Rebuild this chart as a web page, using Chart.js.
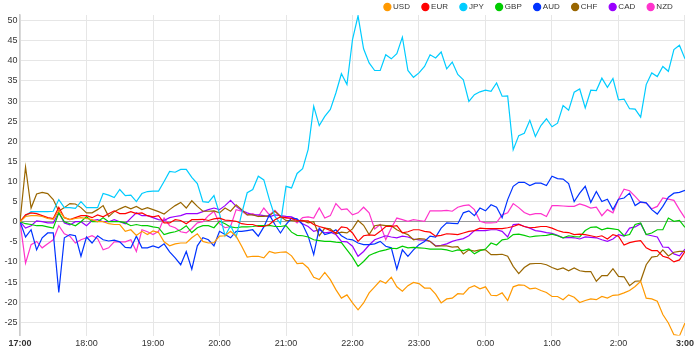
<!DOCTYPE html>
<html>
<head>
<meta charset="utf-8">
<script src="https://cdn.jsdelivr.net/npm/chart.js@4.4.1/dist/chart.umd.min.js"></script>
<style>
  html, body { margin: 0; padding: 0; background: #fff; }
  #wrap { width: 697px; height: 354px; }
</style>
</head>
<body>
<div id="wrap"><canvas id="chartCanvas" width="697" height="354"></canvas></div>
<script>
// hour ticks, one data point every 5 minutes (12 per hour)
var hourLabels = ['17:00', '18:00', '19:00', '20:00', '21:00', '22:00', '23:00', '0:00', '1:00', '2:00', '3:00']
var currencies = ['USD', 'EUR', 'JPY', 'GBP', 'AUD', 'CHF', 'CAD', 'NZD']
var colors = ['#ff9900', '#ff0000', '#00ccff', '#00cc00', '#0033ff', '#996600', '#9900ff', '#ff33cc']

var usd = [0, 1.3, 1.5, 1.5, 1.3, 0.8, 0.6, 2.8, 1, 0.5, 0.8, 1, 0.8, 0.5, 0, 0, -0.5, -0.7, -0.7, -2.4,
  -2, -3.4, -2.4, -3.2, -2.3, -2.7, -5, -6, -5.5, -5.3, -5.3, -4, -3, -4.9, -5.3, -5.2, -3.6, -3.5, -2.4, -3.6,
  -6.1, -8.8, -8.6, -8.6, -9, -7.4, -7.8, -7.6, -7.5, -8.5, -10.4, -10.3, -11.5, -13.8, -14.4, -12.6, -14.4, -16.9, -19, -18.2,
  -20.2, -21.9, -20.2, -17.7, -16.2, -14.7, -15.3, -13.8, -16.2, -17.3, -15.9, -15.1, -15.4, -16.5, -16.5, -18, -20.2, -19.2, -19, -17.9,
  -18, -16.5, -15.9, -16.7, -16.2, -18.3, -18.4, -17.7, -19.6, -16.2, -15.7, -15.8, -16.7, -16.5, -17.1, -17.6, -18.6, -18.6, -19.4, -18.2,
  -18.8, -20.1, -19.6, -19.2, -19.4, -18.6, -19, -18.3, -18.2, -17.7, -17.1, -16.1, -14.8, -19, -19.2, -19.8, -23.1, -25.2, -28.1, -28.4, -25.2]

var eur = [0, 1.7, 2.2, 2, 1.5, 1, 0.8, 3.6, 1, 0.5, 1, 1.5, 1.5, 1, 1.7, 1.2, 2, 2.7, 2, 2,
  2.5, 2, 2.2, 1.5, 1.2, 1.5, -0.3, -0.3, 0.5, 0.3, -0.5, 0.5, 0.5, 0.6, 0.3, 0.7, 0.9, 0.4, 0.3, 0.1,
  -0.5, -0.7, -0.7, -1.2, -1.2, -0.7, 0.5, 1.2, 1, 0.8, 0.3, 0.2, 0.2, -0.7, -1.2, -1.6, -2.2, -2.8, -1.3, -1.5,
  -2.8, -4.9, -3.5, -3.3, -3.4, -2.4, -1.2, -1.2, -1, -2.8, -2.5, -2, -2, -2.4, -2.6, -3.6, -3.4, -3, -3.1, -3.2,
  -2.8, -2.4, -2.2, -1.6, -1.7, -1.7, -1.7, -1.7, -1.5, -1.2, -0.7, -1.2, -1.5, -1.4, -1.2, -1.2, -1.6, -2.2, -2.6, -2.7,
  -3.2, -3.1, -3.2, -3.5, -3.8, -3.5, -4.3, -3.2, -3.6, -5.8, -5.2, -4.9, -4.7, -6.5, -7.2, -7.2, -8.6, -9, -10, -9.5, -7.4]

var jpy = [0, 1.5, 2.5, 2.5, 2.5, 2.5, 2.6, 5.5, 3.5, 3.5, 3.3, 5, 3.5, 3.5, 3.5, 7, 6.6, 6, 8, 6.5,
  6.6, 5, 7, 7.5, 7.6, 7.6, 10, 12.5, 12.3, 13, 13, 11, 9.5, 5, 4.8, 6.5, 2, -3.5, -1, -3.8,
  2, 7.2, 8, 11.3, 10.4, 5.5, 1.3, -0.5, 8.8, 8.4, 12, 13.2, 18, 28.7, 23.9, 26.2, 27.9, 32, 36.8, 34.1,
  45.3, 51.2, 43, 39.5, 37.6, 37.6, 41.5, 40.5, 41.8, 45.9, 37.6, 35.9, 37, 38.6, 41.5, 40.7, 42.2, 38, 39.7, 36.6,
  35.3, 29.9, 31.6, 32.3, 32.7, 32.4, 34.5, 31.2, 31.3, 17.9, 21.4, 22, 25.2, 21.2, 23.9, 25.6, 23.6, 24.5, 28.9, 27.7,
  32.2, 33, 28.3, 32.7, 32.6, 35.7, 33.4, 35.6, 30.3, 30.5, 28.1, 28, 26, 34.1, 37, 36.1, 38.6, 37.4, 42.8, 43.9, 40.5]

var gbp = [0, -0.5, -0.7, -1, -1, -1.3, -1.6, 2.2, 0, -0.5, -1, 0, 1.3, 0, 0, 1, 0, 0, 0, -0.3,
  -1, -0.7, -1, -1, -1.3, -1.5, -3.2, -2.8, -2.5, -2, -1, -2.7, -1.5, -1, -1, -1.5, 0.1, -0.5, -1.3, -1.5,
  -1.3, -1.3, -1.2, -1, -1, -0.9, -1.2, -1.2, -1, -2.6, -3.4, -3.5, -3.8, -4.5, -4.7, -4.9, -4.9, -5.1, -5.2, -7,
  -8.8, -11.1, -9.9, -8.4, -7.8, -7.3, -7, -6.6, -6.7, -6.1, -6.5, -6.4, -6.5, -6.6, -6.8, -6.8, -6.8, -7, -7.4, -7,
  -7.2, -6.8, -8, -7.2, -6.8, -5.3, -5.8, -4.5, -4.3, -3.2, -3.1, -3.4, -3.8, -3.6, -3.5, -3.4, -3.1, -3.5, -4, -3.5,
  -3.7, -3.8, -2.2, -1.4, -1.3, -2, -1.6, -1.8, -2, -3.5, -3.2, -0.7, -0.3, -3.2, -2.8, -2, -2, 0.9, 0.1, 0.3, -1.4]

var aud = [0, -3.8, -2, -7, -4, -2.8, -2.8, -17.6, -4, -3.2, -3.5, -8.6, -3.8, -5.3, -3.5, -4.5, -4.8, -4.6, -5, -6.4,
  -6.5, -3.6, -6.5, -6.5, -6, -6.5, -5.5, -7.5, -9, -10.7, -7.4, -11.8, -6, -4, -4.5, -6, -2.4, -3.2, -4, -2.4,
  -2.4, -2.2, -2, -3.6, -1.3, 1.7, -0.7, -2.8, -0.7, 0.9, 0.7, -0.7, -3.6, -8.2, -1.6, -3.2, -2.8, -2, -3.5, -4.3,
  -4.5, -5.3, -5.7, -5.7, -5.5, -4.9, -6.1, -6.5, -11.8, -7, -8.6, -7, -5.7, -4.9, -3.6, -3.8, -1.6, -0.3, -0.4, -0.5,
  2.2, 2.7, 1.5, 3.4, 2.7, 4.2, 3.6, 1, 5.5, 8.8, 9.8, 9.8, 9, 9.6, 9.6, 9, 11.3, 10.7, 10.6, 9.5,
  5, 7.1, 8.8, 4.8, 7.5, 5, 5.6, 3, 5.6, 5.9, 7.1, 4, 4.9, 4.7, 3, 1.9, 3.8, 6.1, 7.1, 7.3, 7.8]

var chf = [0, 13.6, 3.4, 6.9, 7.3, 7, 5.5, 2.6, 3.5, 4.5, 4.4, 3.5, 2.2, 2.2, 3, 4, 1.3, 2.5, 3.2, 3.8,
  3.2, 3.8, 3, 3.5, 3, 2.5, 1.9, 3, 4, 4.8, 3.4, 5.2, 3.8, 2.6, 2.6, 2.7, 2.2, 3.4, 2.6, 4.2,
  3, 1.7, 1.7, 1.3, 1.3, 1.5, 2.6, 1.3, 0.3, 0.3, 0.1, 0.3, -0.3, 0, -3.5, -1.6, -1.8, -3, -2.6, -2.8,
  -1.8, 0.3, -0.9, -3.2, -1, -0.8, -1, -1, -2, -2.7, -3.2, -4.5, -4.2, -4.3, -4.9, -6.1, -6, -6, -6.3, -6.2,
  -8, -7, -7.3, -7, -7, -8.2, -8.2, -8.1, -8.6, -11.1, -12.9, -11.4, -10.5, -10.4, -10.4, -10.7, -11.4, -11.9, -11.5, -12.2,
  -11.5, -12.2, -12.4, -12.4, -14.8, -13.4, -13.4, -11.7, -13.6, -13.7, -15.9, -14.8, -14.7, -10.7, -8.8, -8.6, -7, -8.5, -7.6, -7.4, -7.4]

var cad = [0, -1.6, -1, 0.2, 0, -0.3, -0.3, 2.3, -0.3, -0.8, 0, 0, -1, 0.3, 0.5, 0, 0, 0.5, 0, -0.5,
  0.9, 2.2, 1.5, 1.5, 1, 0.5, 0.3, 1, 1.3, 1.5, 2, 2, 2, 2.5, 3, 3.4, 3, 4, 5.3, 3.8,
  2.8, 2.2, 1.7, 1.7, 1.5, 1.2, 1.7, 1.5, 1.3, 1.2, 0.5, -0.5, -1.2, -2.4, -2, -2.8, -2.6, -3.2, -4.9, -5,
  -6.1, -8.6, -7.4, -5.8, -4.5, -4, -3.5, -3.8, -4, -3.6, -3.8, -4.3, -4.5, -4.6, -4.9, -6, -5.9, -5.5, -4.9, -4.5,
  -4.2, -3.5, -2.2, -2.2, -2.2, -2, -2, -2.4, -3.8, -0.7, -0.6, -1.2, -1.6, -2.2, -2.4, -2.7, -2.9, -3.4, -4, -3.9,
  -4, -4.3, -3.8, -3.9, -4, -4.5, -4.9, -4.3, -3.2, -3.6, -1.6, -1.3, -0.5, -3.2, -3.5, -3.8, -6.3, -6.4, -8, -8.5, -6.8]

var nzd = [0, -10.3, -5.7, -4.9, -6.5, -5.5, -4.5, -1, -3, -3.6, -5.3, -4.5, -4, -3.5, -4.2, -7, -6.5, -5, -5, -5,
  -4.5, -7.4, -2, -2.5, -3.2, -2.4, 0.9, -1, -1.5, -2.5, -2.8, -1.7, -0.3, 0, 1.5, 2.6, -0.5, -1.5, -1.2, 3,
  2.6, 1.7, 2, 1.3, 3.4, 1.7, 2.8, 1.3, 0.9, 0.9, -0.3, 1, 1.2, 0.9, 3.4, 0.9, 1.5, 4.5, 3, 3.2,
  1.7, 2.2, 3.6, 2.2, -1.8, -0.7, -4.5, -1.6, 0.9, 0.5, 0.1, 0.5, 0.3, 0.1, 2.7, 2.7, 2.7, 2.8, 2.6, 3.6,
  4, 4.2, 3, 0.1, -0.3, -0.3, -0.2, 1.7, 2.2, 4.5, 3.5, 2.3, 1.7, 2, 2, 1.3, 4, 4, 3.9, 3.8,
  3.8, 4.4, 4, 3.4, 3.6, 1.5, 3, 2.2, 5.6, 8.1, 7.7, 6.3, 4.8, 4.7, 3.2, 3.8, 5.9, 5.6, 5.3, 3, 0.9]

var series = [usd, eur, jpy, gbp, aud, chf, cad, nzd]

// legend box is shorter than chart.js makes it; the extra half pixel
// keeps the last label from wrapping onto a hidden second row
const legendHeight = {
    id: 'legendHeight',
    beforeInit(chart) {
        var fit = chart.legend.fit
        chart.legend.fit = function () {
            fit.call(this)
            this.height = 25.7
            this.lineWidths = this.lineWidths.map(function (w) { return w + 0.5 })
        }
    }
}

var datasets = series.map(function (values, k) {
    return {
        label: currencies[k],
        data: values.map(function (v, i) { return { x: i, y: v } }),
        borderColor: colors[k],
        backgroundColor: colors[k],
        borderWidth: 1.2,
        pointRadius: 0,
        tension: 0
    }
})

var ctx = document.getElementById('chartCanvas')
var chart = new Chart(ctx, {
    type: 'line',
    data: { datasets: datasets },
    plugins: [legendHeight],
    options: {
        responsive: false,
        animation: false,
        events: [],
        layout: { padding: { top: -10.7, left: 2, right: 10, bottom: 1.7 } },
        plugins: {
            tooltip: { enabled: false },
            legend: {
                position: 'top',
                align: 'end',
                labels: {
                    usePointStyle: true,
                    pointStyle: 'circle',
                    boxWidth: 3.4,
                    boxHeight: 5,
                    padding: 13.7,
                    color: '#333',
                    font: { family: "'Liberation Sans', Arial, sans-serif", size: 8 }
                }
            }
        },
        scales: {
            x: {
                type: 'linear',
                min: 0,
                max: 120,
                grid: { color: '#e6e6e6', drawTicks: false },
                border: { display: false },
                ticks: {
                    stepSize: 12,
                    padding: 3,
                    maxRotation: 0,
                    autoSkip: false,
                    color: '#333',
                    font: function (c) {
                        var bold = c.tick && (c.tick.value === 0 || c.tick.value === 120)
                        return { family: "'Liberation Sans', Arial, sans-serif", size: 9, weight: bold ? 'bold' : 'normal' }
                    },
                    callback: function (v) { return hourLabels[v / 12] }
                }
            },
            y: {
                min: -28.3,
                max: 51.4,
                afterBuildTicks: function (scale) {
                    scale.ticks = scale.ticks.filter(function (t) {
                        return t.value % 5 === 0 && t.value >= scale.min && t.value <= scale.max
                    })
                },
                grid: {
                    drawTicks: false,
                    color: function (c) { return c.tick && c.tick.value === 0 ? '#999' : '#e6e6e6' }
                },
                border: { display: true, color: '#ccc', width: 1.5 },
                ticks: {
                    stepSize: 5,
                    includeBounds: false,
                    padding: 2.5,
                    color: '#333',
                    font: { family: "'Liberation Sans', Arial, sans-serif", size: 9 }
                }
            }
        }
    }
})
</script>
</body>
</html>
